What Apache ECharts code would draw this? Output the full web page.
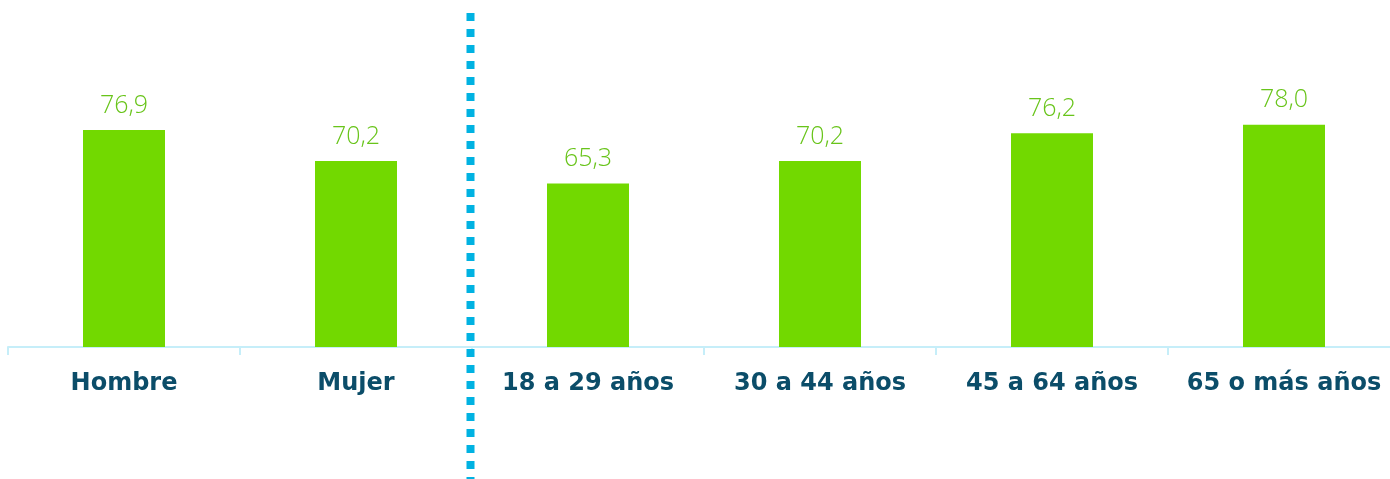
<!DOCTYPE html>
<html>
<head>
<meta charset="utf-8">
<script src="https://cdn.jsdelivr.net/npm/echarts@6/dist/echarts.min.js"></script>
<style>
  html, body { margin: 0; padding: 0; background: #fff; }
  #chart { width: 1390px; height: 479px; }
</style>
</head>
<body>
<div id="chart"></div>
<script>
// categorías y valores
var categorias = ['Hombre', 'Mujer', '18 a 29 años', '30 a 44 años', '45 a 64 años', '65 o más años'];
var valores = [76.9, 70.2, 65.3, 70.2, 76.2, 78.0];

var myChart = echarts.init(document.getElementById('chart'));

var option = {
    backgroundColor: '#ffffff',
    animation: false,
    grid: {
        left: 8,
        width: 1392,
        top: 23,
        bottom: 132,
        outerBoundsMode: 'none'
    },
    xAxis: {
        type: 'category',
        data: categorias,
        axisLine: { lineStyle: { color: '#c6eef9', width: 2 } },
        axisTick: { show: true, interval: 0, length: 8, lineStyle: { color: '#c6eef9', width: 2 } },
        axisLabel: {
            interval: 0,
            margin: 25,
            color: '#0b4d69',
            fontFamily: 'DejaVu Sans',
            fontWeight: 'bold',
            fontSize: 24
        }
    },
    // eje y oculto, empieza en 30
    yAxis: {
        type: 'value',
        min: 30,
        max: 100,
        show: false,
        splitLine: { show: false }
    },
    series: [{
        type: 'bar',
        data: valores,
        barWidth: 82,
        itemStyle: { color: '#72d900' },
        label: {
            show: true,
            position: 'top',
            distance: 12,
            color: '#68c41a',
            fontFamily: 'Open Sans',
            fontWeight: 300,
            fontSize: 25,
            formatter: function (p) {
                return p.value.toFixed(1).replace('.', ',');
            }
        }
    }]
};
myChart.setOption(option);

// línea punteada entre sexo y edad
var x1 = myChart.convertToPixel({ xAxisIndex: 0 }, categorias[1]);
var x2 = myChart.convertToPixel({ xAxisIndex: 0 }, categorias[2]);
var xs = (x1 + x2) / 2 - 1.5;
myChart.setOption({
    graphic: [{
        type: 'line',
        z: 100,
        shape: { x1: xs, y1: 13, x2: xs, y2: 479 },
        style: { stroke: '#00b2e2', lineWidth: 8, lineDash: [8, 8], lineCap: 'butt' }
    }]
});
</script>
</body>
</html>
